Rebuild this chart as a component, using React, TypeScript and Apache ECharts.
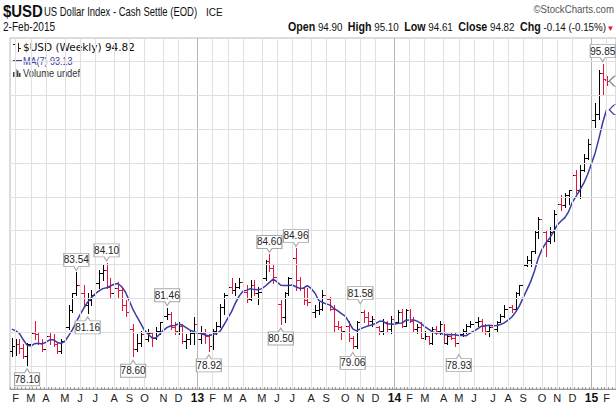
import React, { useEffect, useRef } from "react";
import * as echarts from "echarts";

// ---------- data ----------
const START_UTC = Date.UTC(2012, 0, 30); // first weekly bar (Monday)
const WEEK_COUNT = 160; // 158 bars + 2 empty weeks of right margin
const monthLetters = ["J", "F", "M", "A", "M", "J", "J", "A", "S", "O", "N", "D"];

const priorCloses = [80.0, 80.2, 81.2, 81.5, 80.4, 78.9];

const opens = [
  78.9, 79.2, 79.3, 79.1, 78.6, 79.3, 80.0, 79.9, 79.4, 79.0, 79.8, 79.6, 79.3, 78.9, 79.5, 80.3, 81.3, 82.3, 82.8, 82.3,
  81.6, 81.9, 82.2, 82.9, 83.5, 83.7, 82.7, 82.3, 82.6, 82.5, 81.6, 81.2, 80.2, 79.0, 79.4, 79.9, 79.6, 80.0, 79.7, 80.1,
  80.6, 81.0, 81.1, 80.3, 80.1, 80.4, 79.5, 79.6, 80.0, 80.5, 79.6, 80.0, 79.8, 79.2, 80.1, 80.4, 81.5, 82.2, 82.7, 82.5,
  82.7, 83.0, 82.4, 82.0, 82.8, 82.3, 82.4, 83.2, 84.2, 83.8, 83.3, 81.7, 80.9, 82.3, 83.2, 84.4, 83.1, 82.6, 81.9, 81.8,
  81.2, 81.3, 81.4, 82.2, 82.0, 81.4, 80.4, 80.3, 80.1, 80.4, 79.7, 79.2, 80.6, 81.2, 80.9, 80.7, 80.8, 80.3, 80.1, 80.6,
  80.2, 80.8, 80.6, 81.2, 80.4, 81.3, 80.7, 80.2, 80.3, 79.7, 79.8, 79.4, 80.2, 80.1, 80.5, 79.4, 79.8, 79.7, 79.4, 79.9,
  80.1, 80.4, 80.5, 80.6, 80.7, 80.4, 80.1, 80.3, 80.2, 80.6, 81.0, 81.4, 81.5, 81.4, 82.3, 82.8, 84.0, 84.3, 84.8, 85.9,
  86.7, 85.9, 85.4, 85.9, 87.0, 87.6, 87.5, 88.1, 88.4, 89.3, 88.4, 89.6, 90.3, 91.1, 92.5, 92.9, 95.3, 94.9,
];
const highs = [
  79.7, 79.6, 79.6, 79.3, 79.4, 80.1, 80.7, 80.0, 79.6, 80.0, 80.0, 79.9, 79.4, 79.6, 80.4, 81.6, 82.3, 83.54, 83.1, 82.8,
  82.3, 82.5, 83.1, 83.7, 84.0, 84.1, 83.2, 82.9, 83.0, 82.6, 81.9, 81.5, 80.5, 79.9, 80.1, 80.1, 80.2, 80.0, 80.3, 80.6,
  81.2, 81.46, 81.2, 80.6, 80.6, 80.5, 79.9, 80.1, 80.9, 80.9, 80.4, 80.2, 79.9, 80.2, 80.6, 81.7, 82.3, 82.9, 83.2, 82.9,
  83.2, 83.1, 82.8, 83.1, 83.1, 82.7, 83.3, 84.3, 84.6, 84.0, 83.4, 81.9, 82.4, 83.3, 84.6, 84.96, 83.3, 82.7, 82.6, 82.0,
  81.6, 81.8, 82.5, 82.6, 82.1, 81.6, 80.7, 80.4, 80.7, 80.7, 79.8, 80.7, 81.58, 81.3, 81.2, 81.0, 81.0, 80.4, 80.8, 80.7,
  81.0, 81.1, 81.3, 81.4, 81.4, 81.4, 80.9, 80.5, 80.6, 80.1, 79.8, 80.3, 80.4, 80.7, 80.5, 79.9, 80.0, 80.0, 80.0, 80.2,
  80.5, 80.7, 80.9, 80.9, 80.8, 80.5, 80.4, 80.4, 80.7, 81.1, 81.6, 81.7, 81.6, 82.4, 82.8, 84.1, 84.5, 84.8, 86.0, 86.8,
  86.8, 86.0, 86.2, 87.2, 88.2, 88.1, 88.2, 88.4, 89.5, 89.6, 89.9, 90.5, 91.4, 92.7, 93.5, 95.5, 95.85, 95.1,
];
const lows = [
  78.6, 78.7, 78.8, 78.5, 78.1, 78.9, 79.6, 79.3, 78.9, 78.9, 79.3, 79.2, 78.8, 78.8, 79.4, 80.2, 81.2, 82.2, 82.0, 81.6,
  81.16, 81.6, 81.9, 82.6, 83.1, 82.6, 82.1, 82.1, 82.1, 81.3, 81.0, 80.0, 78.6, 78.9, 79.2, 79.4, 79.5, 79.2, 79.6, 79.9,
  80.4, 80.8, 80.2, 79.9, 79.9, 79.4, 79.1, 79.3, 79.3, 79.5, 79.4, 79.4, 78.92, 79.0, 79.9, 80.3, 81.1, 81.9, 82.3, 82.2,
  82.6, 82.0, 81.8, 81.9, 82.2, 81.7, 82.2, 83.1, 83.6, 82.9, 81.6, 80.5, 80.6, 82.2, 83.0, 82.5, 82.5, 81.7, 81.6, 81.1,
  80.9, 81.1, 81.3, 81.9, 81.3, 80.1, 80.2, 79.6, 79.9, 79.5, 79.06, 79.1, 80.4, 80.6, 80.5, 80.4, 80.2, 79.9, 79.9, 80.1,
  80.0, 80.5, 80.6, 80.3, 80.4, 80.6, 80.1, 80.0, 79.7, 79.6, 79.3, 79.3, 79.9, 79.9, 79.4, 79.3, 79.6, 79.2, 78.93, 79.8,
  80.0, 80.3, 80.3, 80.4, 80.1, 79.9, 79.8, 80.0, 80.1, 80.6, 80.9, 81.3, 81.2, 81.3, 82.2, 82.7, 83.9, 83.9, 84.7, 85.6,
  85.4, 84.5, 85.3, 85.4, 86.9, 87.2, 87.4, 87.6, 88.2, 88.2, 87.9, 89.5, 90.2, 91.0, 92.1, 92.6, 94.0, 94.61,
];
const closes = [
  79.2, 79.3, 79.1, 78.6, 79.3, 80.0, 79.9, 79.4, 79.0, 79.8, 79.6, 79.3, 78.9, 79.5, 80.3, 81.3, 82.3, 82.8, 82.3, 81.6,
  81.9, 82.2, 82.9, 83.5, 83.7, 82.7, 82.3, 82.6, 82.5, 81.6, 81.2, 80.2, 79.0, 79.4, 79.9, 79.6, 80.0, 79.7, 80.1, 80.6,
  81.0, 81.1, 80.3, 80.1, 80.4, 79.5, 79.6, 80.0, 80.5, 79.6, 80.0, 79.8, 79.2, 80.1, 80.4, 81.5, 82.2, 82.7, 82.5, 82.7,
  83.0, 82.4, 82.0, 82.8, 82.3, 82.4, 83.2, 84.2, 83.8, 83.3, 81.7, 80.9, 82.3, 83.2, 84.4, 83.1, 82.6, 81.9, 81.8, 81.2,
  81.3, 81.4, 82.2, 82.0, 81.4, 80.4, 80.3, 80.1, 80.4, 79.7, 79.2, 80.6, 81.2, 80.9, 80.7, 80.8, 80.3, 80.1, 80.6, 80.2,
  80.8, 80.6, 81.2, 80.4, 81.3, 80.7, 80.2, 80.3, 79.7, 79.8, 79.4, 80.2, 80.1, 80.5, 79.4, 79.8, 79.7, 79.4, 79.9, 80.1,
  80.4, 80.5, 80.6, 80.7, 80.4, 80.1, 80.3, 80.2, 80.6, 81.0, 81.4, 81.5, 81.4, 82.3, 82.8, 84.0, 84.3, 84.8, 85.9, 86.7,
  85.9, 85.4, 85.9, 87.0, 87.6, 87.5, 88.1, 88.4, 89.3, 88.4, 89.6, 90.3, 91.1, 92.5, 92.9, 95.3, 94.96, 94.82,
];

// annotated extremes: [bar index, value]
const highNotes = [[17, 83.54], [25, 84.1], [41, 81.46], [68, 84.6], [75, 84.96], [92, 81.58], [156, 95.85]];
const lowNotes = [[4, 78.1], [20, 81.16], [32, 78.6], [52, 78.92], [71, 80.5], [90, 79.06], [118, 78.93]];

const lastClose = 94.82;
const lastMA = 93.13;
const priceGridValues = [78, 80, 82, 84, 86, 88, 90, 92, 94, 96];
const maPeriod = 7;

// ---------- helpers ----------
const SANS = "'Liberation Sans', Arial, sans-serif";
const RED = "#e3173e";
const MA_COLOR = "#3a3aa6";

const dates = Array.from({ length: WEEK_COUNT }, (_, i) =>
  new Date(START_UTC + i * 7 * 86400000).toISOString().slice(0, 10)
);
const isMonthStart = (i: number) => i > 0 && dates[i].slice(5, 7) !== dates[i - 1].slice(5, 7);

const allCloses = [...priorCloses, ...closes];
const maValues = closes.map((_, i) => {
  let s = 0;
  for (let k = 0; k < maPeriod; k++) s += allCloses[i + priorCloses.length - k];
  return +(s / maPeriod).toFixed(3);
});

const ohlcData = closes.map((c, i) => {
  const prev = i === 0 ? priorCloses[priorCloses.length - 1] : closes[i - 1];
  return [i, opens[i], highs[i], lows[i], c, c < prev ? 1 : 0];
});

const HIGH_CALLOUT = "path://M0 0H25V13H15L12.5 17L10 13H0Z";
const LOW_CALLOUT = "path://M0 4H10L12.5 0L15 4H25V17H0Z";
const TAG = "path://M0 5L5 0H30V10H5Z";

function buildOption(): any {
  const vLines = dates
    .map((d, i) => ({ d, i }))
    .filter(({ i }) => isMonthStart(i))
    .map(({ d }) => ({
      xAxis: d,
      lineStyle: { color: d.slice(5, 7) === "01" ? "#b4b4b4" : "#e0e0e0", width: 1, type: "solid" },
    }));
  const hLines = priceGridValues.map((v) => ({
    yAxis: v,
    lineStyle: { color: "#e0e0e0", width: 1, type: "solid" },
  }));

  const notes = [
    ...highNotes.map(([i, v]) => ({
      coord: [dates[i], v],
      value: v,
      symbol: HIGH_CALLOUT,
      symbolSize: [25, 17],
      symbolOffset: [0, -10.5],
      label: { offset: [0, -2] },
    })),
    ...lowNotes.map(([i, v]) => ({
      coord: [dates[i], v],
      value: v,
      symbol: LOW_CALLOUT,
      symbolSize: [25, 17],
      symbolOffset: [0, 12.5],
      label: { offset: [0, 2] },
    })),
    {
      coord: [dates[closes.length], lastClose],
      value: lastClose,
      symbol: TAG,
      symbolSize: [30, 10],
      symbolOffset: [14, 0],
      itemStyle: { color: "#ffffff", borderColor: "#8a8a8a" },
      label: { show: false },
    },
    {
      coord: [dates[closes.length], lastMA],
      value: lastMA,
      symbol: TAG,
      symbolSize: [30, 10],
      symbolOffset: [14, 0],
      itemStyle: { color: "#ffffff", borderColor: MA_COLOR },
      label: { show: false },
    },
  ];

  const t = (text: string, x: number, y: number, font: string, fill: string, extra: any = {}) => ({
    type: "text",
    x,
    y,
    scaleX: extra.scaleX ?? 1,
    style: { text, font, fill, verticalAlign: "middle", align: extra.align ?? "left", rich: extra.rich },
  });

  return {
    animation: false,
    backgroundColor: "#ffffff",
    grid: {
      left: 10,
      top: 38,
      width: WEEK_COUNT * 3.8,
      height: 351,
      show: true,
      borderColor: "#b8b8b8",
      borderWidth: 1,
      containLabel: false,
    },
    xAxis: {
      type: "category",
      data: dates,
      boundaryGap: true,
      axisLine: { show: true, lineStyle: { color: "#9a9a9a", width: 1 } },
      axisTick: { show: true, inside: true, length: 2, interval: 0, lineStyle: { color: "#9a9a9a" } },
      splitLine: { show: false },
      axisLabel: {
        interval: (i: number) => isMonthStart(i),
        margin: 3,
        color: "#222",
        fontSize: 11,
        fontFamily: SANS,
        formatter: (v: string) => {
          const m = +v.slice(5, 7);
          return m === 1 ? "{y|" + v.slice(2, 4) + "}" : monthLetters[m - 1];
        },
        rich: { y: { fontWeight: "bold", fontSize: 12, fontFamily: SANS, color: "#111" } },
      },
    },
    yAxis: {
      type: "value",
      min: 76.67,
      max: 97.36,
      axisLine: { show: false },
      axisTick: { show: false },
      axisLabel: { show: false },
      splitLine: { show: false },
    },
    series: [
      {
        type: "line",
        data: [],
        z: 1,
        silent: true,
        markLine: {
          silent: true,
          symbol: ["none", "none"],
          label: { show: false },
          emphasis: { disabled: true },
          data: [...vLines, ...hLines],
        },
      },
      {
        type: "custom",
        z: 3,
        silent: true,
        data: ohlcData,
        encode: { x: 0, y: [1, 2, 3, 4] },
        renderItem: (_p: any, api: any) => {
          const i = api.value(0);
          const pH = api.coord([i, api.value(2)]);
          const pL = api.coord([i, api.value(3)]);
          const pO = api.coord([i, api.value(1)]);
          const pC = api.coord([i, api.value(4)]);
          const x = Math.round(pH[0]) + 0.5;
          const style = { stroke: api.value(5) ? RED : "#000", lineWidth: 1 };
          const yo = Math.round(pO[1]) + 0.5;
          const yc = Math.round(pC[1]) + 0.5;
          return {
            type: "group",
            children: [
              { type: "line", shape: { x1: x, y1: Math.round(pH[1]), x2: x, y2: Math.round(pL[1]) + 1 }, style },
              { type: "line", shape: { x1: x - 2.5, y1: yo, x2: x, y2: yo }, style },
              { type: "line", shape: { x1: x, y1: yc, x2: x + 2.5, y2: yc }, style },
            ],
          };
        },
      },
      {
        type: "line",
        z: 4,
        data: maValues,
        showSymbol: false,
        silent: true,
        lineStyle: { color: MA_COLOR, width: 1.5 },
        markPoint: {
          silent: true,
          itemStyle: { color: "#ffffff", borderColor: "#a8a8a8", borderWidth: 1 },
          label: {
            show: true,
            position: "inside",
            color: "#222",
            fontSize: 10,
            fontFamily: SANS,
            formatter: (p: any) => Number(p.value).toFixed(2),
          },
          data: notes,
        },
      },
    ],
    graphic: [
      t("$USD", 3, 11.5, "bold 17px " + SANS, "#111", { scaleX: 0.88 }),
      t("US Dollar Index - Cash Settle (EOD)", 44, 12, "12px " + SANS, "#111", { scaleX: 0.79 }),
      t("ICE", 206, 12.5, "10px " + SANS, "#111"),
      t("2-Feb-2015", 3, 27, "12px " + SANS, "#111", { scaleX: 0.84 }),
      t(
        "{b|Open} {v|94.90}  {b|High} {v|95.10}  {b|Low} {v|94.61}  {b|Close} {v|94.82}  {b|Chg} {v|-0.14 (-0.15%)}",
        606,
        27,
        "11px " + SANS,
        "#111",
        {
          align: "right",
          scaleX: 0.89,
          rich: {
            b: { font: "bold 12px " + SANS, fill: "#111" },
            v: { font: "11px " + SANS, fill: "#111" },
          },
        }
      ),
      t("▼", 610.5, 28, "8px " + SANS, RED, { align: "center" }),
      t("©StockCharts.com", 614, 9, "10.5px " + SANS, "#555", { align: "right", scaleX: 0.92 }),
      // legend: price bars icon
      { type: "line", shape: { x1: 15.5, y1: 42, x2: 15.5, y2: 51 }, style: { stroke: "#222", lineWidth: 1 } },
      { type: "line", shape: { x1: 13, y1: 44.5, x2: 15.5, y2: 44.5 }, style: { stroke: "#222", lineWidth: 1 } },
      { type: "line", shape: { x1: 18.5, y1: 43, x2: 18.5, y2: 52 }, style: { stroke: "#222", lineWidth: 1 } },
      { type: "line", shape: { x1: 18.5, y1: 48.5, x2: 21, y2: 48.5 }, style: { stroke: "#222", lineWidth: 1 } },
      t("$USD (Weekly) 94.82", 23, 47, "10.5px 'DejaVu Sans', sans-serif", "#111"),
      { type: "line", shape: { x1: 13, y1: 61, x2: 22, y2: 61 }, style: { stroke: MA_COLOR, lineWidth: 2 } },
      t("MA(7) 93.13", 23, 61.5, "11px " + SANS, MA_COLOR, { scaleX: 0.82 }),
      { type: "rect", shape: { x: 13, y: 72, width: 1.5, height: 5 }, style: { fill: "#444" } },
      { type: "rect", shape: { x: 15, y: 69, width: 1.5, height: 8 }, style: { fill: "#444" } },
      { type: "rect", shape: { x: 17, y: 70.5, width: 1.5, height: 6.5 }, style: { fill: "#444" } },
      { type: "rect", shape: { x: 19, y: 73, width: 1.5, height: 4 }, style: { fill: "#444" } },
      t("Volume undef", 23, 73.5, "11px " + SANS, "#333", { scaleX: 0.85 }),
    ],
  };
}

export default function App() {
  const ref = useRef<HTMLDivElement>(null);
  useEffect(() => {
    if (!ref.current) return;
    const chart = echarts.init(ref.current, null, { renderer: "svg" });
    chart.setOption(buildOption());
    return () => chart.dispose();
  }, []);
  return (
    <div
      ref={ref}
      style={{ position: "fixed", left: 0, top: 0, width: 616, height: 408, background: "#fff", overflow: "hidden" }}
    />
  );
}
